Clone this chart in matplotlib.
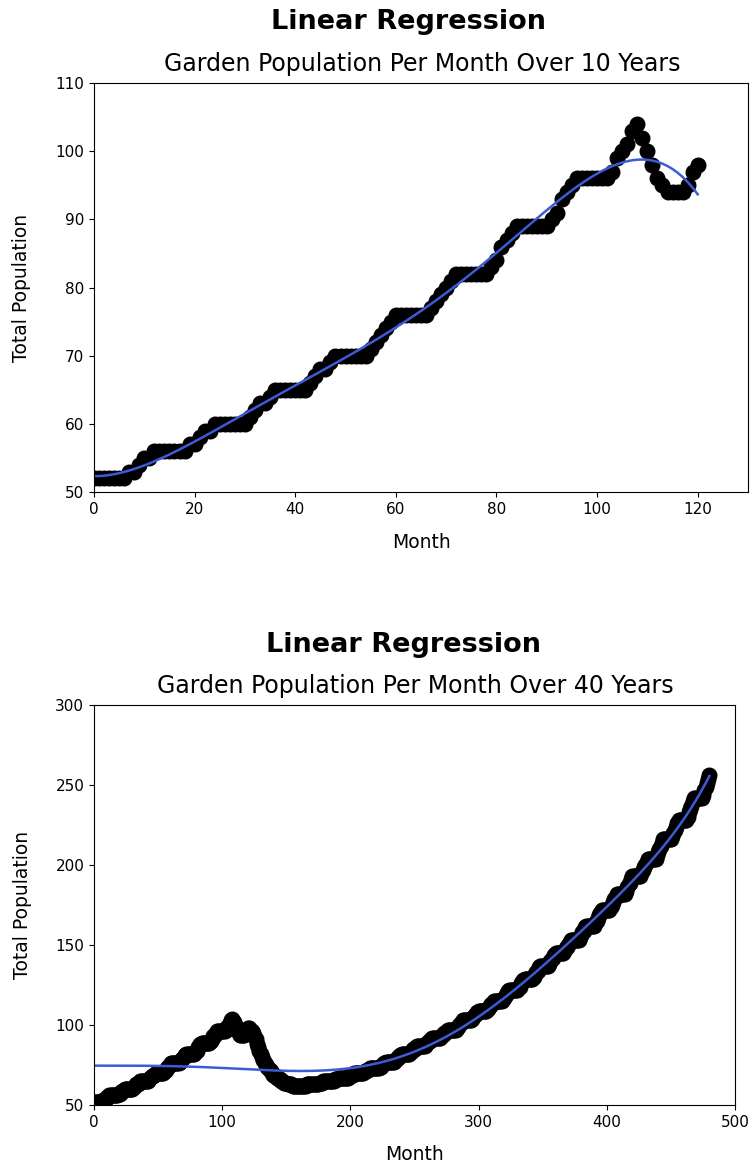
import numpy as np
import matplotlib
matplotlib.use('Agg')
import matplotlib.pyplot as plt

plt.rcParams['font.family'] = ['DejaVu Sans']

# monthly garden population, one row per year
decade1 = [
    52, 52, 52, 52, 52, 52, 52, 53, 53, 54, 55, 55,
    56, 56, 56, 56, 56, 56, 56, 57, 57, 58, 59, 59,
    60, 60, 60, 60, 60, 60, 60, 61, 62, 63, 63, 64,
    65, 65, 65, 65, 65, 65, 65, 66, 67, 68, 68, 69,
    70, 70, 70, 70, 70, 70, 70, 71, 72, 73, 74, 75,
    76, 76, 76, 76, 76, 76, 76, 77, 78, 79, 80, 81,
    82, 82, 82, 82, 82, 82, 82, 83, 84, 86, 87, 88,
    89, 89, 89, 89, 89, 89, 89, 90, 91, 93, 94, 95,
    96, 96, 96, 96, 96, 96, 96, 97, 99, 100, 101, 103,
    104, 102, 100, 98, 96, 95, 94, 94, 94, 94, 95, 97,
]
decade2 = [
    98, 98, 97, 96, 95, 93, 91, 88, 86, 84, 82, 80,
    78, 76, 75, 74, 73, 72, 71, 70, 69, 68, 68, 67,
    66, 66, 65, 65, 64, 64, 64, 63, 63, 63, 63, 62,
    62, 62, 62, 62, 62, 62, 62, 62, 62, 62, 63, 63,
    63, 63, 63, 63, 63, 63, 63, 63, 64, 64, 64, 65,
    65, 65, 65, 65, 65, 65, 65, 65, 66, 66, 66, 67,
    67, 67, 67, 67, 67, 67, 67, 68, 68, 69, 69, 70,
    70, 70, 70, 70, 70, 70, 70, 71, 71, 72, 72, 73,
    73, 73, 73, 73, 73, 73, 73, 74, 74, 75, 76, 76,
    77, 77, 77, 77, 77, 77, 77, 78, 79, 80, 80, 81,
]
decade3 = [
    82, 82, 82, 82, 82, 82, 82, 83, 84, 85, 85, 86,
    87, 87, 87, 87, 87, 87, 87, 88, 89, 90, 90, 91,
    92, 92, 92, 92, 92, 92, 92, 93, 94, 95, 95, 96,
    97, 97, 97, 97, 97, 97, 97, 98, 99, 100, 101, 102,
    103, 103, 103, 103, 103, 103, 103, 104, 105, 106, 107, 108,
    109, 109, 109, 109, 109, 109, 109, 110, 111, 112, 113, 114,
    115, 115, 115, 115, 115, 115, 115, 116, 117, 119, 120, 121,
    122, 122, 122, 122, 122, 122, 122, 123, 124, 126, 127, 128,
    129, 129, 129, 129, 129, 129, 129, 130, 132, 133, 134, 136,
    137, 137, 137, 137, 137, 137, 137, 138, 140, 141, 142, 144,
]
decade4 = [
    145, 145, 145, 145, 145, 145, 145, 146, 148, 149, 150, 152,
    153, 153, 153, 153, 153, 153, 153, 155, 156, 158, 159, 161,
    162, 162, 162, 162, 162, 162, 162, 164, 165, 167, 169, 170,
    172, 172, 172, 172, 172, 172, 172, 174, 175, 177, 179, 180,
    182, 182, 182, 182, 182, 182, 182, 184, 186, 188, 189, 191,
    193, 193, 193, 193, 193, 193, 193, 195, 197, 199, 200, 202,
    204, 204, 204, 204, 204, 204, 204, 206, 208, 210, 212, 214,
    216, 216, 216, 216, 216, 216, 216, 218, 220, 222, 224, 226,
    228, 228, 228, 228, 228, 228, 228, 230, 233, 235, 237, 240,
    242, 242, 242, 242, 242, 242, 242, 244, 247, 249, 251, 254,
]
last_month = [256]

POLY_DEGREE = 7

population = np.array(decade1 + decade2 + decade3 + decade4 + last_month, dtype=float)
months = np.arange(len(population))

W, H = 753, 1165
fig = plt.figure(figsize=(W / 100, H / 100), dpi=100)


def poly_regression(x, y, deg):
    # least squares on polynomial features (no scaling), intercept via centering
    X = np.vander(x.astype(float), deg + 1)[:, :-1]
    xm = X.mean(axis=0)
    ym = y.mean()
    coef = np.linalg.lstsq(X - xm, y - ym, rcond=None)[0]
    return (X - xm) @ coef + ym


def draw_panel(rect, n_months, years, xlim, ylim, xticks, yticks, title_y, title_x, sub_y):
    x = months[:n_months]
    y = population[:n_months]
    fit = poly_regression(x, y, POLY_DEGREE)

    ax = fig.add_axes(rect)
    ax.plot(x, y, 'o', color='black', markersize=10.5)
    ax.plot(x, fit, color='#3c5bd6', linewidth=1.8)
    ax.set_xlim(*xlim)
    ax.set_ylim(*ylim)
    ax.set_xticks(xticks)
    ax.set_yticks(yticks)
    ax.tick_params(labelsize=11)
    ax.set_xlabel('Month', fontsize=13.5)
    ax.set_ylabel('Total Population', fontsize=13.5)
    ax.xaxis.set_label_coords(0.5, -0.10)
    ax.yaxis.set_label_coords(-0.097, 0.5)
    fig.text(((rect[0] + rect[2] / 2) * W + 1) / W, 1 - sub_y / H,
             f'Garden Population Per Month Over {years} Years', fontsize=17,
             ha='center', va='center')
    fig.text(title_x / W, 1 - title_y / H, 'Linear Regression', fontsize=19.5,
             fontweight='bold', ha='center', va='center')
    return ax


draw_panel([94 / W, 1 - 492 / H, (748 - 94) / W, 409 / H], 121, 10,
           (0, 130), (50, 110), range(0, 121, 20), range(50, 111, 10), 22, 409, 64)
draw_panel([94 / W, 1 - 1105 / H, (735 - 94) / W, 400 / H], 481, 40,
           (0, 500), (50, 300), range(0, 501, 100), range(50, 301, 50), 645, 404, 686)

fig.savefig('out.png', dpi=100, facecolor='white')
